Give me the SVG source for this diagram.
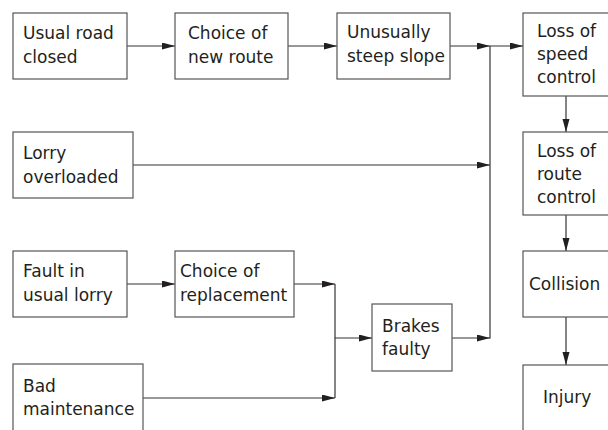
<svg xmlns="http://www.w3.org/2000/svg" width="608" height="430" viewBox="0 0 608 430">
<style>
rect{fill:#fff;stroke:#555;stroke-width:1.2}
text{font-family:"DejaVu Sans",sans-serif;font-size:17px;fill:#231f20}
.c line{stroke:#333;stroke-width:1.2}
</style>
<defs>
<marker id="ah" markerUnits="userSpaceOnUse" markerWidth="13" markerHeight="8" refX="13" refY="3.5" orient="auto">
<path d="M0,0 L13,3.5 L0,7 z" fill="#231f20"/>
</marker>
</defs>
<rect width="608" height="430" style="fill:#fff;stroke:none"/>
<g class="c" id="connectors">
<line x1="127" y1="46" x2="175" y2="46" marker-end="url(#ah)"/>
<line x1="288" y1="46" x2="337" y2="46" marker-end="url(#ah)"/>
<line x1="450" y1="46" x2="490" y2="46" marker-end="url(#ah)"/>
<line x1="490" y1="46" x2="523" y2="46" marker-end="url(#ah)"/>
<line x1="490" y1="46" x2="490" y2="338.6"/>
<line x1="133" y1="165" x2="490" y2="165" marker-end="url(#ah)"/>
<line x1="566" y1="96" x2="566" y2="132" marker-end="url(#ah)"/>
<line x1="566" y1="215" x2="566" y2="251" marker-end="url(#ah)"/>
<line x1="566" y1="317" x2="566" y2="365" marker-end="url(#ah)"/>
<line x1="127" y1="284" x2="175" y2="284" marker-end="url(#ah)"/>
<line x1="294" y1="284" x2="335" y2="284" marker-end="url(#ah)"/>
<line x1="143" y1="398" x2="335" y2="398" marker-end="url(#ah)"/>
<line x1="335" y1="284" x2="335" y2="398"/>
<line x1="335" y1="338" x2="372" y2="338" marker-end="url(#ah)"/>
<line x1="452" y1="338" x2="490" y2="338" marker-end="url(#ah)"/>
</g>
<g id="n-usual-road"><rect x="13" y="13" width="114" height="66"/><text x="23" y="39">Usual road</text><text x="23" y="63">closed</text></g>
<g id="n-new-route"><rect x="175" y="13" width="113" height="66"/><text x="188" y="39">Choice of</text><text x="188" y="63">new route</text></g>
<g id="n-steep"><rect x="337" y="13" width="113" height="66"/><text x="347" y="38">Unusually</text><text x="347" y="62">steep slope</text></g>
<g id="n-speed"><rect x="523" y="13" width="100" height="83"/><text x="537" y="37">Loss of</text><text x="537" y="60">speed</text><text x="537" y="83">control</text></g>
<g id="n-lorry"><rect x="13" y="132" width="120" height="66"/><text x="23" y="159">Lorry</text><text x="23" y="183">overloaded</text></g>
<g id="n-route-control"><rect x="523" y="132" width="100" height="83"/><text x="537" y="157">Loss of</text><text x="537" y="180">route</text><text x="537" y="203">control</text></g>
<g id="n-collision"><rect x="523" y="251" width="100" height="66"/><text x="529" y="290">Collision</text></g>
<g id="n-injury"><rect x="523" y="365" width="100" height="80"/><text x="543" y="403">Injury</text></g>
<g id="n-fault"><rect x="13" y="251" width="114" height="66"/><text x="23" y="277">Fault in</text><text x="23" y="301">usual lorry</text></g>
<g id="n-replacement"><rect x="175" y="251" width="119" height="66"/><text x="180" y="277">Choice of</text><text x="180" y="301">replacement</text></g>
<g id="n-maintenance"><rect x="13" y="364" width="130" height="80"/><text x="23" y="392">Bad</text><text x="23" y="415">maintenance</text></g>
<g id="n-brakes"><rect x="372" y="304" width="80" height="67"/><text x="382" y="332">Brakes</text><text x="382" y="355">faulty</text></g>
</svg>
